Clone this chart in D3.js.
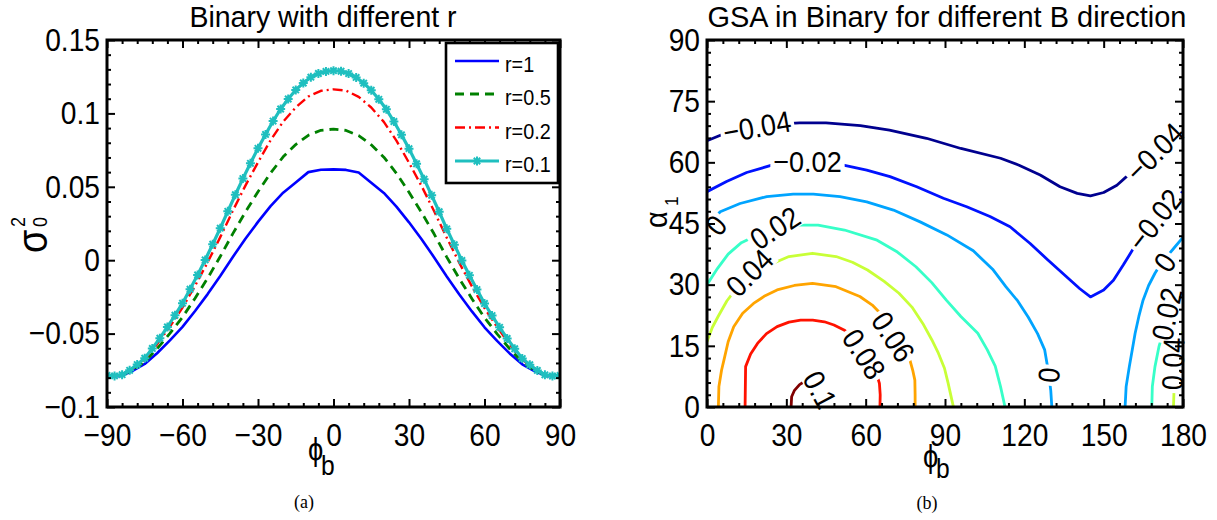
<!DOCTYPE html>
<html><head><meta charset="utf-8">
<script src="https://cdn.jsdelivr.net/npm/d3@7"></script>
<style>
body{margin:0;background:#fff;}
svg{display:block;}
</style></head>
<body><svg id="c" width="1217" height="520"></svg>
<script>
// ================= DATA: panel (a) =================
const phiCoarse = [-90,-85,-80,-75,-70,-65,-60,-55,-50,-45,-40,-35,-30,-25,-20,-15,-10,-5,0,5,10,15,20,25,30,35,40,45,50,55,60,65,70,75,80,85,90];
const phiFine = [-90,-87,-84,-81,-78,-75,-72,-69,-66,-63,-60,-57,-54,-51,-48,-45,-42,-39,-36,-33,-30,-27,-24,-21,-18,-15,-12,-9,-6,-3,0,3,6,9,12,15,18,21,24,27,30,33,36,39,42,45,48,51,54,57,60,63,66,69,72,75,78,81,84,87,90];
const sigmaR1 = [-0.0787,-0.0790,-0.0756,-0.0707,-0.0632,-0.0546,-0.0454,-0.0346,-0.0231,-0.0108,0.0022,0.0146,0.0261,0.0368,0.0460,0.0530,0.0600,0.0616,0.0619,0.0615,0.0598,0.0528,0.0458,0.0365,0.0258,0.0143,0.0019,-0.0111,-0.0234,-0.0349,-0.0457,-0.0549,-0.0635,-0.0709,-0.0757,-0.0790,-0.0787];
const sigmaR05 = [-0.0786,-0.0790,-0.0750,-0.0691,-0.0601,-0.0499,-0.0388,-0.0259,-0.0122,0.0025,0.0181,0.0328,0.0466,0.0594,0.0704,0.0788,0.0851,0.0885,0.0893,0.0884,0.0849,0.0786,0.0702,0.0592,0.0463,0.0325,0.0178,0.0021,-0.0126,-0.0262,-0.0391,-0.0502,-0.0603,-0.0693,-0.0751,-0.0790,-0.0786];
const sigmaR02 = [-0.0785,-0.0790,-0.0743,-0.0675,-0.0570,-0.0452,-0.0323,-0.0174,-0.0014,0.0157,0.0337,0.0508,0.0667,0.0817,0.0944,0.1041,0.1115,0.1154,0.1164,0.1155,0.1113,0.1040,0.0942,0.0815,0.0664,0.0505,0.0333,0.0153,-0.0018,-0.0178,-0.0326,-0.0455,-0.0573,-0.0677,-0.0744,-0.0790,-0.0785];
const sigmaR01 = [-0.0785,-0.0788,-0.0780,-0.0750,-0.0711,-0.0668,-0.0601,-0.0531,-0.0455,-0.0375,-0.0293,-0.0198,-0.0100,0.0002,0.0109,0.0218,0.0333,0.0446,0.0556,0.0660,0.0762,0.0857,0.0948,0.1030,0.1098,0.1160,0.1207,0.1247,0.1272,0.1286,0.1291,
  0.1287,0.1271,0.1245,0.1206,0.1158,0.1096,0.1028,0.0945,0.0854,0.0760,0.0657,0.0552,0.0442,0.0330,0.0214,0.0106,-0.0002,-0.0103,-0.0200,-0.0295,-0.0377,-0.0457,-0.0533,-0.0603,-0.0670,-0.0712,-0.0751,-0.0781,-0.0789,-0.0785];
const seriesNames = ["r=1","r=0.5","r=0.2","r=0.1"];
const xTicksA = [-90,-60,-30,0,30,60,90];
const xTickLabelsA = ["−90","−60","−30","0","30","60","90"];
const yTicksA = [-0.1,-0.05,0,0.05,0.1,0.15];
const yTickLabelsA = ["−0.1","−0.05","0","0.05","0.1","0.15"];
const titleA = "Binary with different r";

// ================= DATA: panel (b) =================
const xTicksB = [0,30,60,90,120,150,180];
const xTickLabelsB = ["0","30","60","90","120","150","180"];
const yTicksB = [0,15,30,45,60,75,90];
const yTickLabelsB = ["0","15","30","45","60","75","90"];
const titleB = "GSA in Binary for different B direction";
const contourLevels = [-0.04,-0.02,0,0.02,0.04,0.06,0.08,0.1];
// each contour: [phi_b, alpha_1]
const contourM004 = [[0,65.3],[6,66.9],[12.5,68.2],[25,69.3],[35,69.7],[45,69.7],[58,69.0],[69,67.9],[83,65.9],[96,63.4],[111,61.0],[118,59.3],[126,56.9],[133.5,54.0],[140,52.4],[145,51.8],[150,52.6],[155,54.4],[160,57.3],[165,59.8],[170,62.0],[176,64.3],[180,65.5]];
const contourM002 = [[0,52.8],[7.4,55.3],[15,57.5],[24.5,59.3],[34,60.0],[44,60.0],[51.6,59.3],[60.4,58.1],[69.2,56.5],[79.3,54.0],[89.4,51.2],[98.2,49.1],[107,46.7],[114.6,44.2],[122.2,40.1],[128.5,36.3],[135,32.5],[141,29.0],[145,27.0],[150,28.7],[153.7,31.1],[157.4,34.8],[161,38.6],[165,42.6],[170,47.3],[174,49.9],[180,52.8]];
const contour0Left = [[0,44.4],[5,47.9],[12.5,49.9],[22.6,51.6],[32.6,52.2],[40.2,52.2],[50.3,51.6],[60.4,50.3],[70.5,48.3],[80.6,45.4],[90.7,42.2],[100.7,38.3],[108,33.8],[113,29.5],[117.5,26],[121.5,22],[125,18],[127.7,14],[129.2,8.3],[130,4],[130.4,0]];
const contour0Right = [[158.1,0],[158.5,5],[159.7,9.9],[160.8,14],[161.9,18.1],[163.3,22.2],[164.9,26.2],[167,29.8],[169.4,32.8],[171.5,35],[173.9,36.9],[177,39.3],[180,41.6]];
const contour002Left = [[0,30],[4,34],[8,37.5],[13,40.3],[20,42.5],[27,43.8],[34,44.6],[42,44.6],[52,43.4],[64,41],[72,38],[79,34.4],[85,30.5],[90.5,26.2],[96,22.2],[102.4,18.1],[106,14],[109,10],[111,5],[112.7,0]];
const contour002Right = [[168.2,0],[168.4,5],[169.4,9.9],[170.9,14.8],[172.3,17.8],[173.9,20.5],[176,23.5],[178.3,26.2],[180,28.4]];
const contour004Left = [[0,16],[2,19.5],[4.2,22.2],[7.5,26],[11.6,29.5],[16,32.5],[22,34.4],[31,36.9],[39.9,37.7],[48.8,36.9],[55,35.5],[60.7,33.6],[67,30.8],[72.6,27.9],[77.5,24.5],[81.6,20.5],[85,16.5],[87.5,13.2],[89.8,9.5],[91.2,5.8],[92.5,2],[93.2,0]];
const contour004Right = [[176.4,0],[176.6,4],[176.9,8],[177.6,11],[178.3,14],[179.2,16.5],[180,18.5]];
const contour006 = [[4.3,0],[4.5,5],[5.5,9],[6.4,11.5],[8,16],[10.1,19.7],[13.5,23],[17.6,25.4],[22,27.3],[26.5,28.7],[33,29.8],[39.9,30.3],[48.8,29.5],[57.8,27.1],[62.5,25],[66.7,22.2],[70,19.5],[72.6,17.3],[74.8,14.8],[76.4,12.3],[77.8,9],[78.6,6.6],[78.7,3],[78.7,0]];
const contour008 = [[14.4,0],[14.5,5],[14.6,9.9],[16.5,13],[19.1,15.6],[22.5,18],[26.5,19.7],[31,20.8],[35.4,21.3],[40,21.3],[44.4,20.9],[48,20.1],[51.8,18.9],[55,17.3],[57.8,15.6],[60.2,13.5],[62.2,11.5],[63.8,8.8],[65.2,5.8],[65.5,3],[65.4,0]];
const contour01 = [[31.8,0],[32,2.5],[33,4],[35,5.5],[37,6.3],[39,6.5],[41,6],[43,4.5],[44.5,2.5],[45.3,0]];
// contour labels: text, phi_b, alpha_1, rotation (deg)
const labelText  = ["−0.04","−0.02","0","0.02","0.04","0.06","0.08","0.1","0","−0.04","−0.02","0","0.02","0.04"];
const labelPhi   = [18.9, 38.0, 3.4, 25.7, 16.1, 70.4, 59.3, 42.7, 129.3, 169.4, 169.4, 173.2, 173.9, 176.3];
const labelAlpha = [68.7, 60.2, 44.6, 43.9, 32.9, 17.2, 13.0, 4.2, 7.8, 62.5, 45.9, 35.5, 22.8, 10.6];
const labelAngle = [-10, 0, -50, -33, -45, 57, 57, 62, -85, -45, -52, -55, -78, -88];

// ================= RENDER =================
const W = 1217, H = 520;
const FONT = '"Liberation Sans", Arial, Helvetica, sans-serif';
const svg = d3.select("#c");
const defs = svg.append("defs");

function condense(sel, f){
  sel.each(function(){
    const L = this.getComputedTextLength();
    if (L > 0) d3.select(this).attr("textLength", L*f).attr("lengthAdjust","spacingAndGlyphs");
  });
}

function drawAxes(g, xs, ys, xT, xL, yT, yL, xMin, yMin){
  const [x0,x1] = xs.range(), [y1,y0] = ys.range();
  const style = s => { s.select(".domain").remove(); s.selectAll("line").attr("stroke","#000").attr("stroke-width",2); };
  g.append("g").attr("transform",`translate(0,${y1})`)
    .call(d3.axisBottom(xs).tickValues(xMin).tickFormat("").tickSizeInner(-4).tickSizeOuter(0)).call(style);
  g.append("g").attr("transform",`translate(0,${y0})`)
    .call(d3.axisTop(xs).tickValues(xMin).tickFormat("").tickSizeInner(-4).tickSizeOuter(0)).call(style);
  g.append("g").attr("transform",`translate(${x0},0)`)
    .call(d3.axisLeft(ys).tickValues(yMin).tickFormat("").tickSizeInner(-4).tickSizeOuter(0)).call(style);
  g.append("g").attr("transform",`translate(${x1},0)`)
    .call(d3.axisRight(ys).tickValues(yMin).tickFormat("").tickSizeInner(-4).tickSizeOuter(0)).call(style);
  const bx = g.append("g").attr("transform",`translate(0,${y1})`)
    .call(d3.axisBottom(xs).tickValues(xT).tickFormat((d,i)=>xL[i]).tickSizeInner(-8).tickSizeOuter(0).tickPadding(16)).call(style);
  g.append("g").attr("transform",`translate(0,${y0})`)
    .call(d3.axisTop(xs).tickValues(xT).tickFormat("").tickSizeInner(-8).tickSizeOuter(0)).call(style);
  const ly = g.append("g").attr("transform",`translate(${x0},0)`)
    .call(d3.axisLeft(ys).tickValues(yT).tickFormat((d,i)=>yL[i]).tickSizeInner(-8).tickSizeOuter(0).tickPadding(7)).call(style);
  g.append("g").attr("transform",`translate(${x1},0)`)
    .call(d3.axisRight(ys).tickValues(yT).tickFormat("").tickSizeInner(-8).tickSizeOuter(0)).call(style);
  [bx, ly].forEach(a => {
    a.selectAll("text").attr("font-size",32).attr("font-family",FONT).attr("fill","#000");
    condense(a.selectAll("text"), 0.88);
  });
  g.append("rect").attr("x",x0).attr("y",y0).attr("width",x1-x0).attr("height",y1-y0)
    .attr("fill","none").attr("stroke","#000").attr("stroke-width",3);
}

function addText(g, txt, x, y, size, anchor, f, family){
  const t = g.append("text").attr("x",x).attr("y",y).attr("font-size",size)
    .attr("font-family",family||FONT).attr("text-anchor",anchor||"start").attr("fill","#000").text(txt);
  if (f) condense(t, f);
  return t;
}

// ---------- Panel (a) ----------
const xA = d3.scaleLinear().domain([-90,90]).range([107,560]);
const yA = d3.scaleLinear().domain([-0.1,0.15]).range([407,40]);
const gA = svg.append("g");
defs.append("clipPath").attr("id","clipA").append("rect")
  .attr("x",107).attr("y",40).attr("width",453).attr("height",367);

const seriesA = [
  {name:seriesNames[0], xs:phiCoarse, ys:sigmaR1,  color:"#0000ff", dash:null,        width:2.6},
  {name:seriesNames[1], xs:phiCoarse, ys:sigmaR05, color:"#008000", dash:"9,6",       width:2.8},
  {name:seriesNames[2], xs:phiCoarse, ys:sigmaR02, color:"#ff0000", dash:"10,4,2,4",  width:2.4},
  {name:seriesNames[3], xs:phiFine,   ys:sigmaR01, color:"#1fbfbf", dash:null,        width:3.2, marker:true}
];
const lineA = d3.line().x(d=>xA(d[0])).y(d=>yA(d[1]));
const starPath = "M-4.5,0H4.5M0,-4.5V4.5M-3.2,-3.2L3.2,3.2M-3.2,3.2L3.2,-3.2";
const plotA = gA.append("g").attr("clip-path","url(#clipA)");
seriesA.forEach(s => {
  const pts = s.xs.map((x,i)=>[x, s.ys[i]]);
  plotA.append("path").attr("d", lineA(pts)).attr("fill","none").attr("stroke",s.color)
    .attr("stroke-width",s.width).attr("stroke-dasharray",s.dash).attr("stroke-linejoin","round");
  if (s.marker) {
    plotA.append("g").selectAll("path").data(pts).join("path")
      .attr("transform",d=>`translate(${xA(d[0])},${yA(d[1])})`)
      .attr("d",starPath).attr("stroke",s.color).attr("stroke-width",2).attr("fill","none");
  }
});
drawAxes(gA, xA, yA, xTicksA, xTickLabelsA, yTicksA, yTickLabelsA,
  d3.range(-90,91,6).filter(v=>v%30!==0),
  d3.range(-10,16).map(v=>v/100).filter(v=>Math.abs(Math.round(v*100))%5!==0));

// legend
const lg = gA.append("g");
lg.append("rect").attr("x",446).attr("y",43).attr("width",112).attr("height",140)
  .attr("fill","#fff").attr("stroke","#000").attr("stroke-width",2.6);
const legRowY = [61,94,127.5,161];
seriesA.forEach((s,i)=>{
  const yy = legRowY[i];
  lg.append("line").attr("x1",455).attr("x2",499).attr("y1",yy).attr("y2",yy)
    .attr("stroke",s.color).attr("stroke-width",s.width).attr("stroke-dasharray",s.dash);
  if (s.marker) lg.append("path").attr("transform",`translate(477,${yy})`).attr("d",starPath)
    .attr("stroke",s.color).attr("stroke-width",2).attr("fill","none");
  addText(lg, s.name, 505, yy+11, 22, "start", 0.9);
});

// titles & labels (a)
addText(svg, titleA, 323, 27, 30, "middle", 0.95);
const ylA = svg.append("g").attr("transform","translate(47,253) rotate(-90)");
addText(ylA, "σ", 0, 0, 42, "start", 0.9);
addText(ylA, "0", 26, 0, 20, "start", 0.9);
addText(ylA, "2", 26, -22, 20, "start", 0.9);
addText(svg, "ϕ", 308, 460, 31, "start", 0.88);
addText(svg, "b", 321, 475, 28, "start", 0.88);
addText(svg, "(a)", 304, 508, 18, "middle", null, '"Liberation Serif", "Times New Roman", serif');

// ---------- Panel (b) ----------
const xB = d3.scaleLinear().domain([0,180]).range([707,1183]);
const yB = d3.scaleLinear().domain([0,90]).range([407,40]);
const gB = svg.append("g");
defs.append("clipPath").attr("id","clipB").append("rect")
  .attr("x",707).attr("y",40).attr("width",476).attr("height",367);
const mask = defs.append("mask").attr("id","lblMask").attr("maskUnits","userSpaceOnUse")
  .attr("x",0).attr("y",0).attr("width",W).attr("height",H);
mask.append("rect").attr("width",W).attr("height",H).attr("fill","#fff");

const levelColors = ["#00008f","#0012ff","#00a4ff","#37ffc8","#c8ff37","#ffa400","#ff1200","#800000"];
const contours = [
  {lv:0, pts:contourM004}, {lv:1, pts:contourM002},
  {lv:2, pts:contour0Left}, {lv:2, pts:contour0Right},
  {lv:3, pts:contour002Left}, {lv:3, pts:contour002Right},
  {lv:4, pts:contour004Left}, {lv:4, pts:contour004Right},
  {lv:5, pts:contour006}, {lv:6, pts:contour008}, {lv:7, pts:contour01}
];
const lineB = d3.line().x(d=>xB(d[0])).y(d=>yB(d[1])).curve(d3.curveLinear);
const plotB = gB.append("g").attr("clip-path","url(#clipB)").append("g").attr("mask","url(#lblMask)");
contours.forEach(c => {
  plotB.append("path").attr("d", lineB(c.pts)).attr("fill","none")
    .attr("stroke", levelColors[c.lv]).attr("stroke-width",2.8).attr("stroke-linejoin","round");
});
const lblG = gB.append("g");
labelText.forEach((t,i)=>{
  const px = xB(labelPhi[i]), py = yB(labelAlpha[i]);
  const g = lblG.append("g").attr("transform",`translate(${px},${py}) rotate(${labelAngle[i]})`);
  const tx = addText(g, t, 0, 0, 30, "middle", 0.9).attr("dominant-baseline","central");
  const w = +tx.attr("textLength") || tx.node().getComputedTextLength();
  mask.append("rect").attr("x",-w/2-3).attr("y",-12).attr("width",w+6).attr("height",24)
    .attr("fill","#000").attr("transform",`translate(${px},${py}) rotate(${labelAngle[i]})`);
});
drawAxes(gB, xB, yB, xTicksB, xTickLabelsB, yTicksB, yTickLabelsB,
  d3.range(0,181,6).filter(v=>v%30!==0),
  d3.range(0,91,3).filter(v=>v%15!==0));

addText(svg, titleB, 947, 27, 30, "middle", 0.965);
const ylB = svg.append("g").attr("transform","translate(667,228) rotate(-90)");
addText(ylB, "α", 0, 0, 32, "start", 0.9);
addText(ylB, "1", 22, 11, 19, "start", 0.9);
addText(svg, "ϕ", 923, 467, 31, "start", 0.88);
addText(svg, "b", 936, 478, 28, "start", 0.88);
addText(svg, "(b)", 927, 509, 18, "middle", null, '"Liberation Serif", "Times New Roman", serif');
</script>
</body></html>
